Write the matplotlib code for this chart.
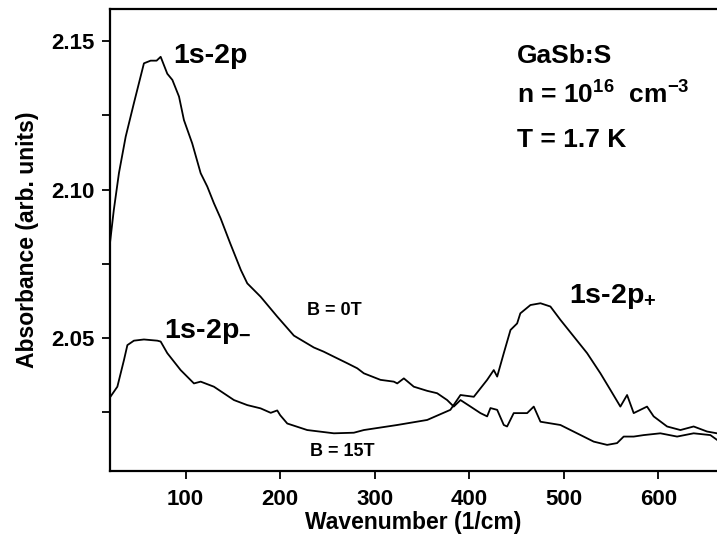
import matplotlib
matplotlib.use("Agg")
import matplotlib.pyplot as plt
from matplotlib.ticker import MultipleLocator, FixedLocator

plt.rcParams['font.family'] = ['Liberation Sans', 'DejaVu Sans']
plt.rcParams['font.weight'] = 'bold'
plt.rcParams['mathtext.fontset'] = 'custom'
plt.rcParams['mathtext.rm'] = 'Liberation Sans:bold'
plt.rcParams['mathtext.it'] = 'Liberation Sans:bold'
plt.rcParams['mathtext.bf'] = 'Liberation Sans:bold'

# ---------------------------------------------------------------
# data
# ---------------------------------------------------------------
b0_x = [20, 24, 29.5, 36.6, 45.3, 55.9, 63, 69.3, 73.6, 80.6, 86, 93, 98.2,
        107, 115.9, 122.9, 129.9, 137, 147, 158.4, 165.2, 179.3, 196.9, 214.5,
        235.6, 246, 256.8, 270.9, 281.5, 288.5, 306.1, 320.2, 323.8, 330.8,
        341.3, 355.5, 366, 376.6, 383.6, 390.7, 401.3, 411.8, 418.9, 422.4,
        429.5, 436.5, 440, 447, 454, 461.2, 468.2, 475.3, 496.4, 514, 531.6,
        545.8, 556.3, 563.3, 573.9, 584.5, 602.1, 619.8, 637.3, 655, 662]
b0_y = [2.082, 2.093, 2.1056, 2.1178, 2.1291, 2.1425, 2.1434, 2.1434, 2.1447,
        2.139, 2.1369, 2.1313, 2.1234, 2.1155, 2.1055, 2.101, 2.0954, 2.0903,
        2.082, 2.0729, 2.0684, 2.0639, 2.0572, 2.0508, 2.0468, 2.0454, 2.0437,
        2.0415, 2.0398, 2.0381, 2.0359, 2.0353, 2.0347, 2.0364, 2.0336,
        2.0322, 2.0314, 2.0291, 2.0269, 2.0291, 2.0269, 2.0247, 2.0236,
        2.0264, 2.0258, 2.0207, 2.0202, 2.0247, 2.0247, 2.0247, 2.0269,
        2.0218, 2.0207, 2.0179, 2.0151, 2.014, 2.0146, 2.0168, 2.0168,
        2.0173, 2.0179, 2.0168, 2.0179, 2.0173, 2.0157]

b15_x = [20, 27.8, 34.8, 38.4, 45.3, 55.9, 70.1, 73.6, 80.6, 94.7, 108.8,
         115.9, 129.9, 151.1, 165.2, 179.3, 190, 196.9, 200, 207.5, 228.6,
         256.8, 277.9, 288.5, 323.8, 355.5, 380, 390.7, 404.8, 418.9, 425.9,
         429.5, 436.5, 443.6, 450.6, 454, 464.7, 475.3, 485.8, 496.4, 510.5,
         524.6, 538.7, 549.3, 559.8, 566.9, 573.9, 588, 595, 609.2, 623.3,
         637.3, 651.5, 662]
b15_y = [2.030, 2.0336, 2.0426, 2.0476, 2.0491, 2.0495, 2.0491, 2.0488, 2.0449,
         2.0392, 2.0347, 2.0353, 2.0336, 2.0291, 2.0274, 2.0263, 2.0248,
         2.0256, 2.0240, 2.0212, 2.019, 2.0179, 2.0181, 2.019, 2.0207, 2.0224,
         2.0258, 2.0308, 2.0302, 2.0359, 2.0392, 2.0370, 2.0449, 2.0527,
         2.0549, 2.0583, 2.0611, 2.0617, 2.0606, 2.0561, 2.0505, 2.0449,
         2.0381, 2.0325, 2.0269, 2.0308, 2.0247, 2.0269, 2.0236, 2.0202,
         2.019, 2.0202, 2.0185, 2.0179]

x_ticks = [100, 200, 300, 400, 500, 600]
y_ticks = [2.05, 2.10, 2.15]

# ---------------------------------------------------------------
# plot
# ---------------------------------------------------------------
fig = plt.figure(figsize=(7.17, 5.38), dpi=100)
ax = fig.add_axes([0.1534, 0.1245, 0.8466, 0.8588])

ax.plot(b0_x, b0_y, color="black", linewidth=1.3)
ax.plot(b15_x, b15_y, color="black", linewidth=1.3)

ax.set_xlim(20, 662)
ax.set_ylim(2.0052, 2.1608)

ax.xaxis.set_major_locator(FixedLocator(x_ticks))
ax.yaxis.set_major_locator(FixedLocator(y_ticks))
ax.yaxis.set_minor_locator(MultipleLocator(0.025))
ax.set_yticklabels(["%.2f" % v for v in y_ticks])

ax.tick_params(axis="both", which="both", direction="out", width=1.3,
               length=6, labelsize=16)
ax.tick_params(axis="x", pad=7)
ax.tick_params(axis="y", pad=5)

for s in ["left", "bottom", "top"]:
    ax.spines[s].set_linewidth(1.6)
ax.spines["right"].set_visible(False)

ax.set_xlabel("Wavenumber (1/cm)", fontsize=16.5, fontweight="bold", labelpad=1)
ax.set_ylabel("Absorbance (arb. units)", fontsize=16.5, fontweight="bold", labelpad=9)

# annotations
ax.text(87.3, 2.1426, "1s-2p", fontsize=20.5)
ax.text(76.9, 2.0500, r"1s-2p$_{-}$", fontsize=20.5)
ax.text(505.2, 2.0617, r"1s-2p$_{+}$", fontsize=20.5)
ax.text(227.9, 2.0576, "B = 0T", fontsize=13)
ax.text(231.4, 2.0101, "B = 15T", fontsize=13)

ax.text(450.6, 2.1426, "GaSb:S", fontsize=19)
ax.text(450.6, 2.1291, r"n = 10$^{16}$  cm$^{-3}$", fontsize=19)
ax.text(450.6, 2.1143, "T = 1.7 K", fontsize=19)

fig.savefig("out.png", dpi=100)
